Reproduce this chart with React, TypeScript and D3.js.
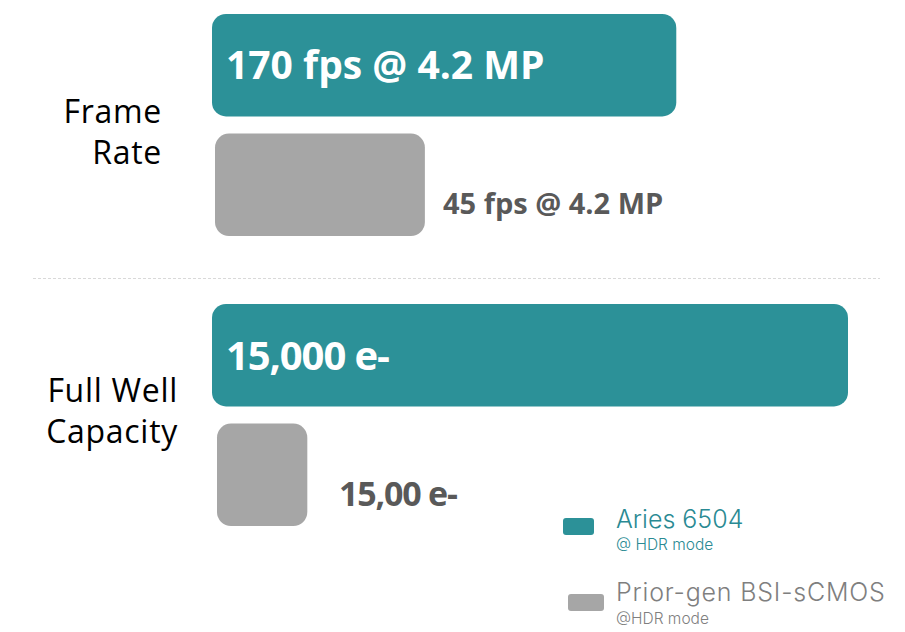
import React from "react";
import * as d3 from "d3";

const categories = ["Frame Rate", "Full Well Capacity"];
const categoryLines = [["Frame", "Rate"], ["Full Well", "Capacity"]];
const seriesNames = ["Aries 6504", "Prior-gen BSI-sCMOS"];
const seriesSub = ["@ HDR mode", "@HDR mode"];
// relative bar lengths (percent of the longest bar)
const ariesLength = [73, 100];
const priorLength = [33, 14.2];
const ariesLabels = ["170 fps @ 4.2 MP", "15,000 e-"];
const priorLabels = ["45 fps @ 4.2 MP", "15,00 e-"];

const TEAL = "#2c9198";
const GREY = "#a6a6a6";
const W = 905;
const H = 632;

export default function App() {
  const y0 = d3.scaleBand<string>().domain(categories).range([14, 594]).paddingInner(0).paddingOuter(0);
  const y1 = d3.scaleBand<string>().domain(["a", "p"]).range([0, 222]).paddingInner(0.143).paddingOuter(0);
  const x = d3.scaleLinear().domain([0, 100]).range([0, 636]);
  const font = "'Open Sans', 'Noto Sans', sans-serif";
  const legendFont = "Inter, Lato, sans-serif";

  return (
    <svg width={W} height={H} style={{ position: "absolute", left: 0, top: 0, background: "#fff" }}>
      <line x1={33} x2={880} y1={278.5} y2={278.5} stroke="#d9d9d9" strokeWidth={1} strokeDasharray="3,2" />
      {categories.map((c, i) => {
        const gy = y0(c)!;
        const ay = gy + y1("a")!;
        const py = gy + y1("p")!;
        const bh = y1.bandwidth();
        const aw = x(ariesLength[i]);
        const pw = x(priorLength[i]);
        const px = i === 0 ? 215 : 217;
        const lines = categoryLines[i];
        const labelRight = i === 0 ? 162 : 178;
        const firstBase = i === 0 ? 123 : 402;
        return (
          <g key={c}>
            <rect x={212} y={ay} width={aw} height={bh} rx={14} ry={14} fill={TEAL} />
            <rect x={px} y={py} width={pw} height={bh} rx={14} ry={14} fill={GREY} />
            <text x={226} y={ay + (i === 0 ? 65 : 66)} fill="#fff" fontFamily={font} fontWeight={700}
              fontSize={i === 0 ? 39 : 40} letterSpacing={i === 1 ? -1.1 : 0}>
              {ariesLabels[i]}
            </text>
            <text x={i === 0 ? 443 : 339} y={i === 0 ? py + 80 : py + 82} fill="#595959" fontFamily={font}
              fontWeight={700} fontSize={i === 0 ? 29 : 34} letterSpacing={i === 1 ? -1.2 : 0}>
              {priorLabels[i]}
            </text>
            {lines.map((l, j) => (
              <text key={l} x={labelRight} y={firstBase + j * 41} textAnchor="end" fontFamily={font}
                fontSize={32} letterSpacing={0.7} fill="#000">
                {l}
              </text>
            ))}
          </g>
        );
      })}
      {/* legend */}
      <g>
        <rect x={563} y={518} width={31} height={17} rx={3} fill={TEAL} />
        <text x={616} y={528} fill="#2a8a93" fontFamily={legendFont} fontWeight={300} fontSize={25}>{seriesNames[0]}</text>
        <text x={616} y={550} fill="#2a8a93" fontFamily={legendFont} fontWeight={300} fontSize={15.5}>{seriesSub[0]}</text>
        <rect x={568} y={594} width={36} height={17} rx={3} fill={GREY} />
        <text x={616} y={601} fill="#7f7f7f" fontFamily={legendFont} fontWeight={300} fontSize={25} letterSpacing={0.8}>{seriesNames[1]}</text>
        <text x={616} y={624} fill="#7f7f7f" fontFamily={legendFont} fontWeight={300} fontSize={15.5}>{seriesSub[1]}</text>
      </g>
    </svg>
  );
}
